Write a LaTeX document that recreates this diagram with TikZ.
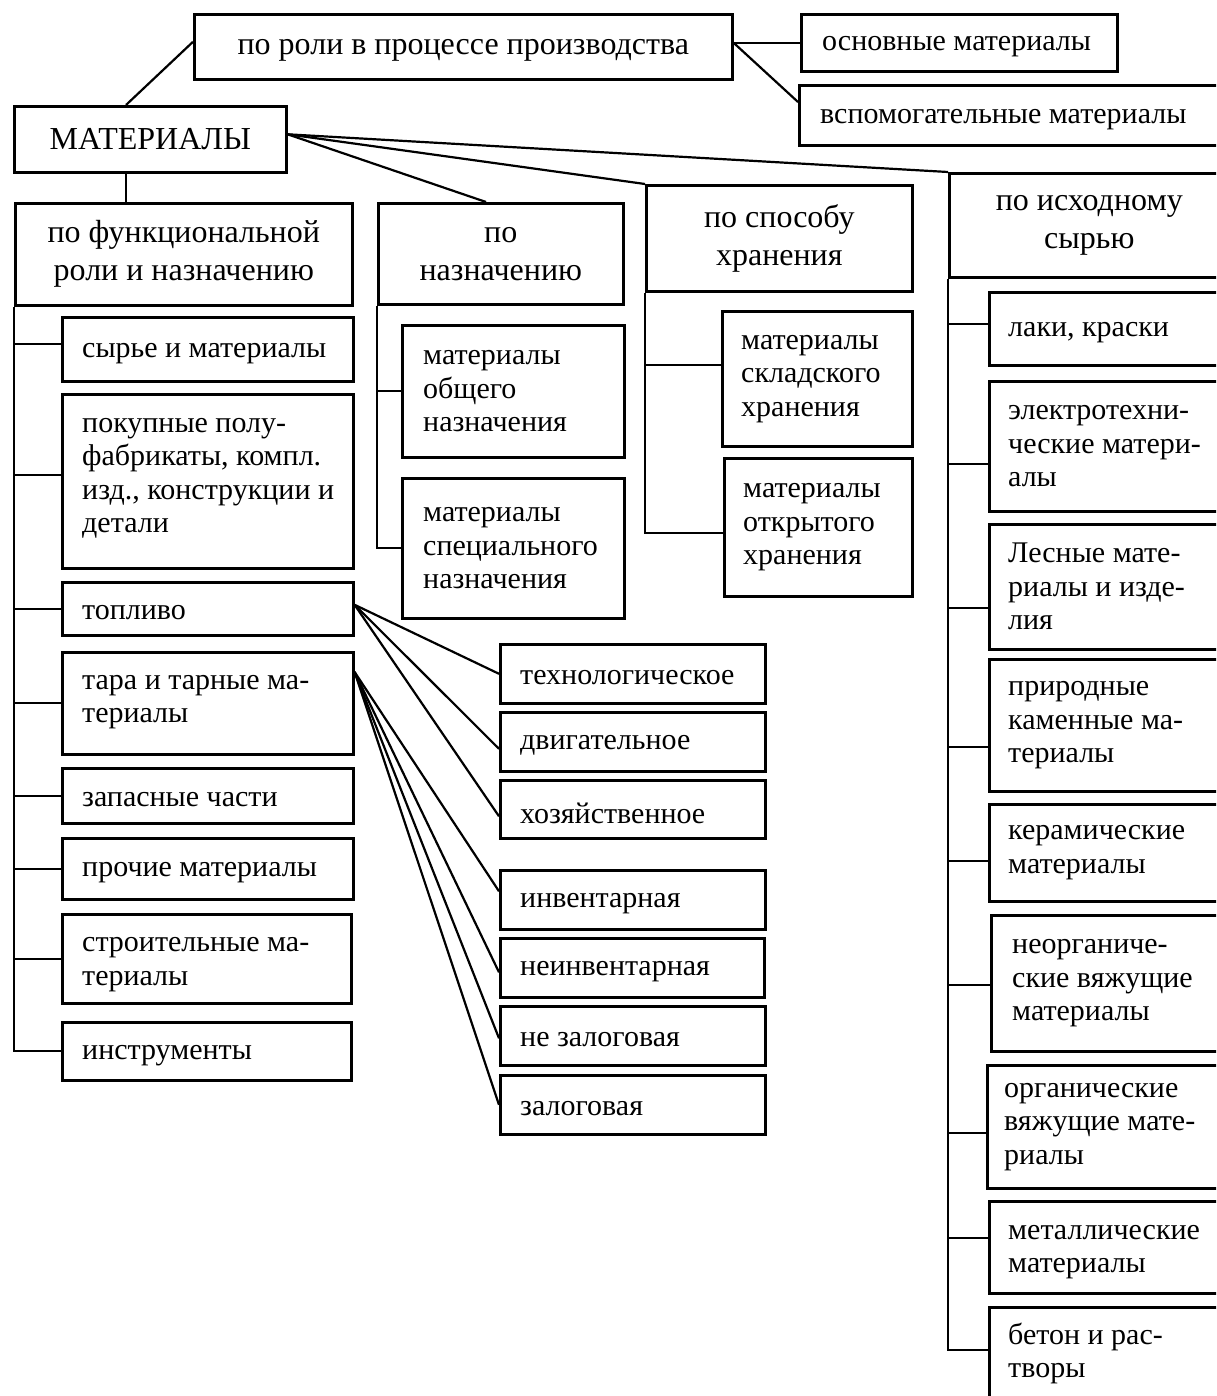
\documentclass[tikz,border=0pt]{standalone}
\usepackage{fontspec}
\setmainfont{Liberation Serif}
\usetikzlibrary{calc}
\tikzset{
  bx/.style={draw, line width=2.6pt, anchor=north west, inner sep=0pt},
  hd/.style={bx, align=center, font=\fontsize{32}{38}\selectfont},
  lt/.style={anchor=west, inner sep=0pt, align=left, font=\fontsize{30}{33.5}\selectfont},
  sl/.style={yshift=-4pt},
  ln/.style={line width=2.2pt},
}
\begin{document}
\begin{tikzpicture}[x=1pt,y=-1pt]
\useasboundingbox (0,0) rectangle (1216,1396);
\fill[white] (0,0) rectangle (1216,1396);
\clip (0,0) rectangle (1216,1396);
% top level
\node[hd, minimum width=538pt, minimum height=65pt, text depth=0pt] (p1) at (193,13) {по роли в процессе производства};
\node[bx, minimum width=316pt, minimum height=57pt] (osn) at (800,13) {};
\node[lt, sl] (osn-t) at ([xshift=22pt]osn.west) {основные материалы};
\node[bx, minimum width=430pt, minimum height=60pt] (vsp) at (798,84) {};
\node[lt, sl] (vsp-t) at ([xshift=22pt]vsp.west) {вспомогательные материалы};
\node[hd, minimum width=272pt, minimum height=66pt] (mat) at (13,105) {МАТЕРИАЛЫ};
\node[hd, minimum width=337pt, minimum height=102pt] (funct) at (14,202) {по функциональной\\роли и назначению};
\node[hd, minimum width=245pt, minimum height=101pt] (nazn) at (377,202) {по\\назначению};
\node[hd, minimum width=266pt, minimum height=106pt] (spos) at (645,184) {по способу\\хранения};
\node[hd, minimum width=280pt, minimum height=104pt] (isx) at (948,172) {по исходному\\сырью};
% left column
\node[bx, minimum width=291pt, minimum height=64pt] (syr) at (61,316) {};
\node[lt, sl] (syr-t) at ([xshift=21pt]syr.west) {сырье и материалы};
\node[bx, minimum width=291pt, minimum height=174pt] (pok) at (61,393) {};
\node[lt] (pok-t) at ([xshift=21pt,yshift=3pt]pok.west) {покупные полу-\\фабрикаты, компл.\\изд., конструкции и\\детали};
\node[bx, minimum width=291pt, minimum height=53pt] (topl) at (61,581) {};
\node[lt, sl] (topl-t) at ([xshift=21pt]topl.west) {топливо};
\node[bx, minimum width=291pt, minimum height=102pt] (tara) at (61,651) {};
\node[lt] (tara-t) at ([xshift=21pt,yshift=1pt]tara.west) {тара и тарные ма-\\териалы};
\node[bx, minimum width=291pt, minimum height=55pt] (zap) at (61,767) {};
\node[lt, sl] (zap-t) at ([xshift=21pt]zap.west) {запасные части};
\node[bx, minimum width=291pt, minimum height=61pt] (proch) at (61,837) {};
\node[lt, sl] (proch-t) at ([xshift=21pt]proch.west) {прочие материалы};
\node[bx, minimum width=289pt, minimum height=89pt] (stroi) at (61,913) {};
\node[lt] (stroi-t) at ([xshift=21pt,yshift=-6pt]stroi.west) {строительные ма-\\териалы};
\node[bx, minimum width=289pt, minimum height=58pt] (instr) at (61,1021) {};
\node[lt, sl] (instr-t) at ([xshift=21pt]instr.west) {инструменты};
% nazn column
\node[bx, minimum width=222pt, minimum height=132pt] (obsh) at (401,324) {};
\node[lt] (obsh-t) at ([xshift=22pt]obsh.west) {материалы\\общего\\назначения};
\node[bx, minimum width=222pt, minimum height=140pt] (spec) at (401,477) {};
\node[lt] (spec-t) at ([xshift=22pt]spec.west) {материалы\\специального\\назначения};
% sposob column
\node[bx, minimum width=190pt, minimum height=135pt] (skl) at (721,310) {};
\node[lt] (skl-t) at ([xshift=20pt]skl.west) {материалы\\складского\\хранения};
\node[bx, minimum width=188pt, minimum height=138pt] (otkr) at (723,457) {};
\node[lt] (otkr-t) at ([xshift=20pt]otkr.west) {материалы\\открытого\\хранения};
% fan boxes
\node[bx, minimum width=265pt, minimum height=59pt] (tech) at (499,643) {};
\node[lt, sl] (tech-t) at ([xshift=21pt]tech.west) {технологическое};
\node[bx, minimum width=265pt, minimum height=59pt] (dvig) at (499,711) {};
\node[lt, sl] (dvig-t) at ([xshift=21pt]dvig.west) {двигательное};
\node[bx, minimum width=265pt, minimum height=58pt] (hoz) at (499,779) {};
\node[lt, sl] (hoz-t) at ([xshift=21pt]hoz.west) {хозяйственное};
\node[bx, minimum width=265pt, minimum height=59pt] (inv) at (499,869) {};
\node[lt, sl] (inv-t) at ([xshift=21pt]inv.west) {инвентарная};
\node[bx, minimum width=264pt, minimum height=59pt] (neinv) at (499,937) {};
\node[lt, sl] (neinv-t) at ([xshift=21pt]neinv.west) {неинвентарная};
\node[bx, minimum width=265pt, minimum height=59pt] (nezal) at (499,1005) {};
\node[lt, sl] (nezal-t) at ([xshift=21pt]nezal.west) {не залоговая};
\node[bx, minimum width=265pt, minimum height=59pt] (zal) at (499,1074) {};
\node[lt, sl] (zal-t) at ([xshift=21pt]zal.west) {залоговая};
% right column
\node[bx, minimum width=240pt, minimum height=73pt] (lak) at (988,291) {};
\node[lt, sl] (lak-t) at ([xshift=20pt]lak.west) {лаки, краски};
\node[bx, minimum width=240pt, minimum height=130pt] (elek) at (988,380) {};
\node[lt] (elek-t) at ([xshift=20pt]elek.west) {электротехни-\\ческие матери-\\алы};
\node[bx, minimum width=240pt, minimum height=125pt] (les) at (988,523) {};
\node[lt] (les-t) at ([xshift=20pt]les.west) {Лесные мате-\\риалы и изде-\\лия};
\node[bx, minimum width=240pt, minimum height=132pt] (prir) at (988,658) {};
\node[lt] (prir-t) at ([xshift=20pt]prir.west) {природные\\каменные ма-\\териалы};
\node[bx, minimum width=240pt, minimum height=97pt] (ker) at (988,803) {};
\node[lt] (ker-t) at ([xshift=20pt]ker.west) {керамические\\материалы};
\node[bx, minimum width=238pt, minimum height=136pt] (neorg) at (990,914) {};
\node[lt] (neorg-t) at ([xshift=22pt]neorg.west) {неорганиче-\\ские вяжущие\\материалы};
\node[bx, minimum width=242pt, minimum height=123pt] (org) at (986,1064) {};
\node[lt] (org-t) at ([xshift=18pt]org.west) {органические\\вяжущие мате-\\риалы};
\node[bx, minimum width=240pt, minimum height=92pt] (met) at (988,1200) {};
\node[lt] (met-t) at ([xshift=20pt,yshift=-5pt]met.west) {металлические\\материалы};
\node[bx, minimum width=240pt, minimum height=92pt] (bet) at (988,1306) {};
\node[lt] (bet-t) at ([xshift=20pt]bet.west) {бетон и рас-\\творы};
% connectors
\coordinate (mr) at ([yshift=5pt]mat.east);
\draw[ln] ([yshift=5pt]p1.west) -- ([xshift=113pt]mat.north west);
\draw[ln] (osn.west -| p1.east) -- (osn.west);
\draw[ln] (osn.west -| p1.east) -- ([yshift=-18pt]vsp.north west);
\draw[ln] ([xshift=113pt]mat.south west) -- ([xshift=113pt]mat.south west |- funct.north);
\draw[ln] (mr) -- ([xshift=109pt]nazn.north west);
\draw[ln] (mr) -- (spos.north west);
\draw[ln] (mr) -- (isx.north west);
\foreach \c/\s in {syr/5pt, pok/6pt, topl/0pt, tara/0pt, zap/0pt, proch/0pt, stroi/0pt, instr/0pt}
  \draw[ln] (funct.south west) |- ([yshift=\s]\c.west);
\draw[ln] (nazn.south west) |- (obsh.west);
\draw[ln] (nazn.south west) |- (spec.west);
\draw[ln] (spos.south west) |- ([yshift=13.5pt]skl.west);
\draw[ln] (spos.south west) |- ([yshift=-6pt]otkr.west);
\foreach \c/\s in {lak/4.5pt, elek/-18pt, les/-21.5pt, prir/-22pt, ker/-8.5pt, neorg/-2pt, org/-6.5pt, met/9pt, bet/3pt}
  \draw[ln] (isx.south west) |- ([yshift=\s]\c.west);
\coordinate (tf) at ([yshift=4pt]topl.east);
\coordinate (tr) at ([yshift=-21pt]tara.north east);
\draw[ln] (tf) -- (tech.west);
\draw[ln] (tf) -- ([yshift=-7pt]dvig.west);
\draw[ln] (tf) -- ([yshift=-7pt]hoz.west);
\draw[ln] (tr) -- ([yshift=8.5pt]inv.west);
\draw[ln] (tr) -- ([yshift=-4.5pt]neinv.west);
\draw[ln] (tr) -- ([yshift=-2.5pt]nezal.west);
\draw[ln] (tr) -- (zal.west);
\end{tikzpicture}
\end{document}
